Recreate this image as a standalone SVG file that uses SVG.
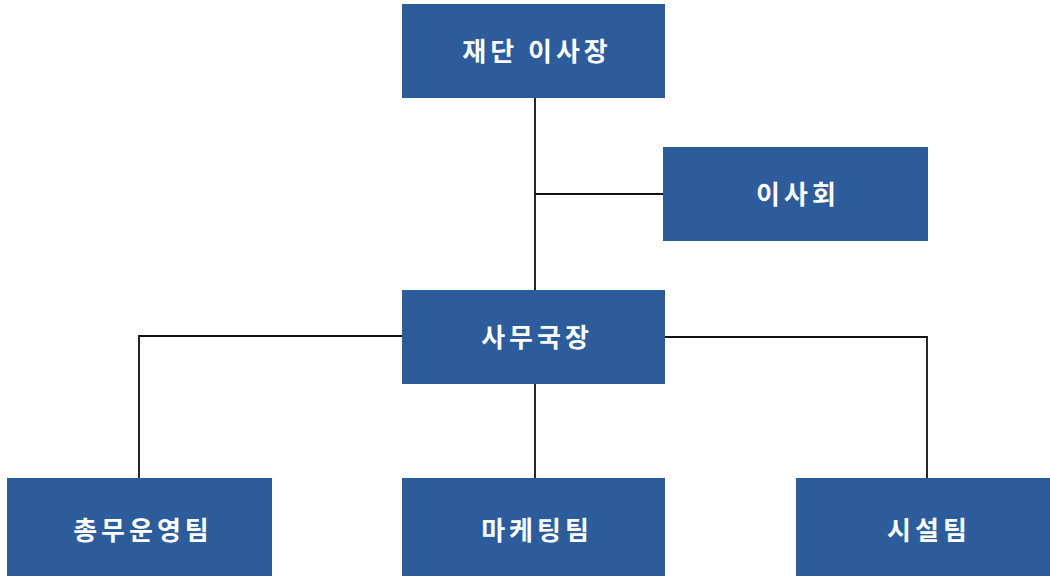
<svg xmlns="http://www.w3.org/2000/svg" width="1050" height="576" viewBox="0 0 1050 576">
<style>
.box{fill:#2d5c9c;}
.lbl{font-family:"Noto Sans CJK KR","Noto Sans",sans-serif;font-size:26px;font-weight:bold;fill:#ffffff;text-anchor:middle;letter-spacing:4px;}
.ln{stroke:#111111;stroke-width:1.8;fill:none;}
</style>
<rect width="1050" height="576" fill="#ffffff"/>
<g id="connectors">
<line class="ln" x1="535" y1="98" x2="535" y2="290"/>
<line class="ln" x1="535" y1="194" x2="663" y2="194"/>
<polyline class="ln" points="402,336 139,336 139,478"/>
<polyline class="ln" points="665,337 927,337 927,478"/>
<line class="ln" x1="535" y1="384" x2="535" y2="478"/>
</g>
<g id="n-chair"><rect class="box" x="402" y="4" width="263" height="94"/><text class="lbl" x="537" y="61">재단 이사장</text></g>
<g id="n-board"><rect class="box" x="663" y="147" width="265" height="94"/><text class="lbl" x="798" y="204">이사회</text></g>
<g id="n-secgen"><rect class="box" x="402" y="290" width="263" height="94"/><text class="lbl" x="537" y="347">사무국장</text></g>
<g id="n-admin"><rect class="box" x="7" y="478" width="265" height="100"/><text class="lbl" x="143" y="540">총무운영팀</text></g>
<g id="n-marketing"><rect class="box" x="402" y="478" width="263" height="100"/><text class="lbl" x="537" y="540">마케팅팀</text></g>
<g id="n-facility"><rect class="box" x="796" y="478" width="263" height="100"/><text class="lbl" x="929" y="540">시설팀</text></g>
</svg>
